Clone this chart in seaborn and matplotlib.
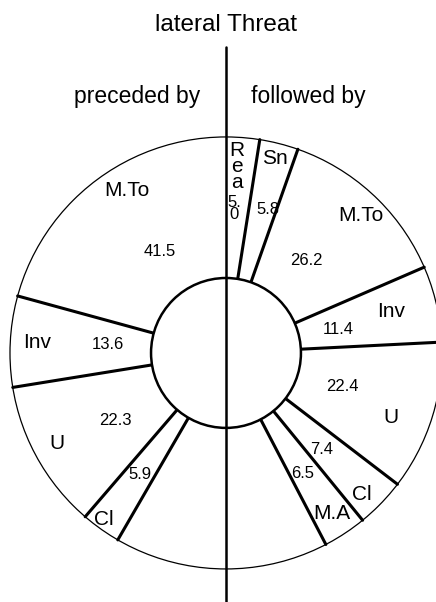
"""
Split ring chart: what precedes / follows a lateral threat.
Left half = "preceded by", right half = "followed by"; each half is 100 %.
"""

import matplotlib
matplotlib.use("Agg")  # no display

import matplotlib.pyplot as plt
from matplotlib.patches import Circle
import numpy as np
import pandas as pd
import seaborn as sns

# ── Data ────────────────────────────────────────────────────────────────────
TITLE = "lateral Threat"
LEFT_HEADER = "preceded by"
RIGHT_HEADER = "followed by"

left_labels = ["M.To", "Inv", "U", "Cl"]
left_values = [41.5, 13.6, 22.3, 5.9]

right_labels = ["Rea", "Sn", "M.To", "Inv", "U", "Cl", "M.A"]
right_values = [5.0, 5.8, 26.2, 11.4, 22.4, 7.4, 6.5]

# ── Style ───────────────────────────────────────────────────────────────────
sns.set_theme(style="white")
plt.rcParams["font.family"] = ["Liberation Sans", "DejaVu Sans"]
plt.rcParams["text.color"] = "black"

R_OUT = 1.0
R_IN = 0.347
DEG_PER_PCT = 1.8  # a half circle is 100 %

# label placement (radius as fraction of R_OUT, angle nudge in degrees)
left_name_r = [0.88, 0.875, 0.89, 0.955]
left_name_nudge = [-6, 0, -1, -1]
left_val_r = [0.56, 0.55, 0.60, 0.69]
left_val_nudge = [-4, -1, 2, 0]

right_name_r = [0.865, 0.93, 0.89, 0.79, 0.82, 0.91, 0.89]
right_name_nudge = [-1.2, 0, 1.5, -1, 4, 2, 0]
right_val_r = [0.67, 0.69, 0.57, 0.53, 0.56, 0.63, 0.66]
right_val_nudge = [-1.2, 2, -2, 1.5, -1, 1, 1]
right_stacked = [True, False, False, False, False, False, False]


def polar(r, deg, side):
    """deg measured from 12 o'clock; side=+1 right half, -1 left half."""
    rad = np.radians(deg)
    return side * r * np.sin(rad), r * np.cos(rad)


def boundaries(values, side):
    rows = []
    for i, deg in enumerate(np.cumsum(values) * DEG_PER_PCT):
        for r in (R_IN, R_OUT):
            x, y = polar(r, deg, side)
            rows.append({"seg": f"{side}_{i}", "x": x, "y": y})
    return rows


# ── Figure ──────────────────────────────────────────────────────────────────
fig = plt.figure(figsize=(4.36, 6.02), dpi=100)
ax = fig.add_axes([0, 0, 1, 1])
ax.set_xlim(-1.046, 0.972)
ax.set_ylim(-1.153, 1.634)
ax.set_aspect("equal")
ax.axis("off")

# outer ring
ax.add_patch(Circle((0, 0), R_OUT, fill=False, ec="black", lw=0.9, zorder=1))

# radial separators
seg_df = pd.DataFrame(boundaries(left_values, -1) + boundaries(right_values, 1))
sns.lineplot(data=seg_df, x="x", y="y", units="seg", estimator=None, sort=False,
             color="black", lw=2.2, ax=ax, legend=False, zorder=2)

# inner hub
ax.add_patch(Circle((0, 0), R_IN, fc="white", ec="black", lw=1.8, zorder=3))

# central divider
ax.plot([0, 0], [-1.153, 1.417], color="black", lw=1.8, zorder=4)
ax.set_xlabel("")
ax.set_ylabel("")


# segment texts
def put_labels(labels, values, side, name_r, name_nudge, val_r, val_nudge,
               stacked=None):
    starts = np.concatenate([[0], np.cumsum(values)[:-1]]) * DEG_PER_PCT
    mids = starts + np.array(values) * DEG_PER_PCT / 2
    for i, (lab, val, mid) in enumerate(zip(labels, values, mids)):
        vtxt = f"{val:.1f}"
        ltxt = lab
        ls = 1.2
        if stacked is not None and stacked[i]:
            ltxt = "\n".join(lab)
            vtxt = vtxt[:2] + "\n" + vtxt[2:]
            ls = 0.78
        x, y = polar(name_r[i], mid + name_nudge[i], side)
        ax.text(x, y, ltxt, ha="center", va="center", fontsize=15,
                linespacing=ls, zorder=5)
        x, y = polar(val_r[i], mid + val_nudge[i], side)
        ax.text(x, y, vtxt, ha="center", va="center", fontsize=12,
                linespacing=ls, zorder=5)


put_labels(left_labels, left_values, -1, left_name_r, left_name_nudge,
           left_val_r, left_val_nudge)
put_labels(right_labels, right_values, 1, right_name_r, right_name_nudge,
           right_val_r, right_val_nudge, right_stacked)

# headers
ax.text(0, 1.519, TITLE, ha="center", va="center", fontsize=17.5)
ax.text(-0.412, 1.185, LEFT_HEADER, ha="center", va="center", fontsize=16.5)
ax.text(0.38, 1.185, RIGHT_HEADER, ha="center", va="center", fontsize=16.5)

fig.savefig("out.png", dpi=100)
